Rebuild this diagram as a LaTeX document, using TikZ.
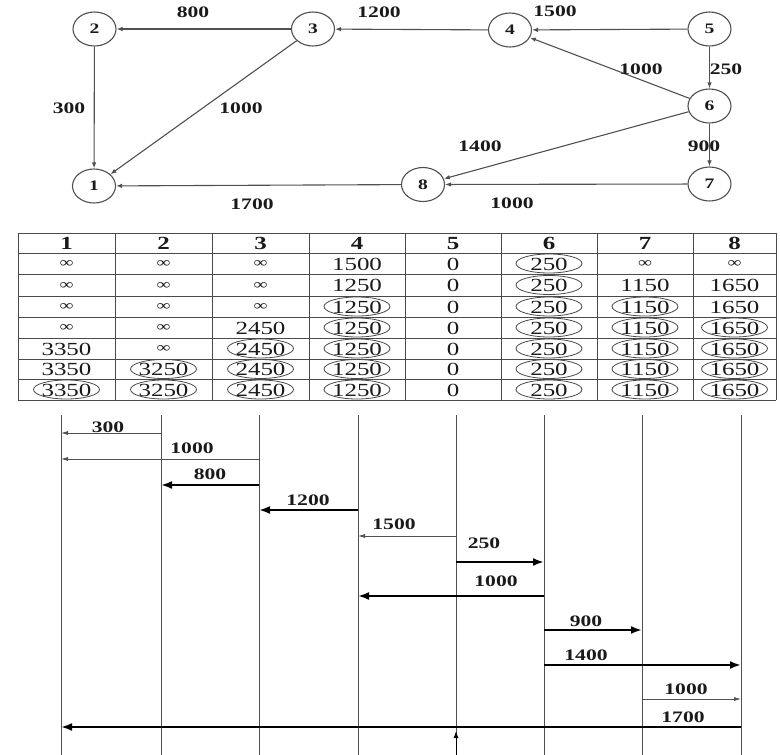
\documentclass[tikz,border=0pt]{standalone}
\usepackage{fontspec}
\usepackage{graphicx}
\setmainfont{Liberation Serif}[FakeStretch=1.35]
\usetikzlibrary{shapes.geometric,arrows.meta}
\definecolor{edgec}{HTML}{505050}
\definecolor{txt}{HTML}{1A1A1A}
\definecolor{gridc}{HTML}{4A4A4A}
\newcommand{\inft}{\raisebox{2.5pt}{\fontsize{14.5}{14.5}\selectfont ∞}}
\newcommand{\tcp}[3]{\node[val] (v#1-#2) at (X#2 |- R#1) {#3};}
\newcommand{\tco}[3]{\node[val] (v#1-#2) at (X#2 |- R#1) {#3};
  \draw[ovalc] (v#1-#2.center) ellipse [x radius=33, y radius=9.5];}
\begin{document}
\begin{tikzpicture}[x=1pt,y=-1pt,
  gnode/.style={ellipse,draw=edgec,line width=1.1pt,minimum width=43pt,minimum height=34pt,inner sep=0pt,text=txt,font=\fontsize{14.5}{14.5}\selectfont\bfseries},
  gedge/.style={draw=edgec,line width=1.1pt,-{Latex[length=6pt,width=4.5pt]}},
  glab/.style={font=\fontsize{16}{16}\selectfont\bfseries,text=txt,inner sep=0pt},
  head/.style={font=\fontsize{18.5}{18.5}\selectfont\bfseries,text=txt,inner sep=0pt,text height=13pt,text depth=0pt},
  val/.style={font=\fontsize{18.5}{18.5}\selectfont,text=txt,inner sep=0pt,text height=13pt,text depth=0pt},
  ovalc/.style={draw=gridc,line width=0.8pt},
  gridline/.style={draw=gridc,line width=0.9pt},
  vline/.style={draw=edgec,line width=1pt},
  thinarr/.style={draw=edgec,line width=0.8pt,-{Latex[length=7pt,width=4pt]}},
  thickarr/.style={draw=black,line width=2.6pt,-{Latex[length=11pt,width=8pt]}}]
\useasboundingbox (0,0) rectangle (780,755);

% ---------- graph ----------
\node[gnode] (n2) at (94.5,29) {2};
\node[gnode] (n3) at (313,29) {3};
\node[gnode] (n1) at (94,186) {1};
\node[gnode] (n4) at (510,30) {4};
\node[gnode] (n5) at (709.5,29) {5};
\node[gnode] (n6) at (709.5,106) {6};
\node[gnode] (n7) at (709.5,184) {7};
\node[gnode] (n8) at (423,184.5) {8};

\draw[gedge] (n3) -- (n2);
\draw[gedge] (n4) -- (n3);
\draw[gedge] (n5) -- (n4);
\draw[gedge] (n5) -- (n6);
\draw[gedge] (n6) -- (n4);
\draw[gedge] (n2) -- (n1);
\draw[gedge] (n3) -- (n1);
\draw[gedge] (n6) -- (n8);
\draw[gedge] (n6) -- (n7);
\draw[gedge] (n7) -- (n8);
\draw[gedge] (n8) -- (n1);

\node[glab] (l800) at (193,12) {800};
\node[glab] (l1200) at (379,12) {1200};
\node[glab] (l1500) at (555,11) {1500};
\node[glab] (l300) at (69,108) {300};
\node[glab] (l1000a) at (241,108) {1000};
\node[glab] (l1000b) at (641,69) {1000};
\node[glab] (l250) at (726,69) {250};
\node[glab] (l1400) at (480,146) {1400};
\node[glab] (l900) at (704,146) {900};
\node[glab] (l1700) at (252,204) {1700};
\node[glab] (l1000c) at (512,203) {1000};

% ---------- table ----------
\foreach \y in {233,253,274,296,317,338,359,379,400}
  \draw[gridline] (18,\y) -- (776,\y);
\foreach \x in {18,115,212,309,405,501,597,693,776}
  \draw[gridline] (\x,233) -- (\x,400);
\foreach \i/\x in {1/66.5,2/163.5,3/260.5,4/357,5/453,6/549,7/645,8/734.5}
  \coordinate (X\i) at (\x,0);
\foreach \j/\y in {0/243,1/263.5,2/285,3/306.5,4/327.5,5/348.5,6/369,7/389.5}
  \coordinate (R\j) at (0,\y);
\foreach \i in {1,...,8}
  \node[head] (h\i) at (X\i |- R0) {\i};

\tcp{1}{1}{\inft}\tcp{1}{2}{\inft}\tcp{1}{3}{\inft}\tcp{1}{4}{1500}\tcp{1}{5}{0}\tco{1}{6}{250}\tcp{1}{7}{\inft}\tcp{1}{8}{\inft}
\tcp{2}{1}{\inft}\tcp{2}{2}{\inft}\tcp{2}{3}{\inft}\tcp{2}{4}{1250}\tcp{2}{5}{0}\tco{2}{6}{250}\tcp{2}{7}{1150}\tcp{2}{8}{1650}
\tcp{3}{1}{\inft}\tcp{3}{2}{\inft}\tcp{3}{3}{\inft}\tco{3}{4}{1250}\tcp{3}{5}{0}\tco{3}{6}{250}\tco{3}{7}{1150}\tcp{3}{8}{1650}
\tcp{4}{1}{\inft}\tcp{4}{2}{\inft}\tcp{4}{3}{2450}\tco{4}{4}{1250}\tcp{4}{5}{0}\tco{4}{6}{250}\tco{4}{7}{1150}\tco{4}{8}{1650}
\tcp{5}{1}{3350}\tcp{5}{2}{\inft}\tco{5}{3}{2450}\tco{5}{4}{1250}\tcp{5}{5}{0}\tco{5}{6}{250}\tco{5}{7}{1150}\tco{5}{8}{1650}
\tcp{6}{1}{3350}\tco{6}{2}{3250}\tco{6}{3}{2450}\tco{6}{4}{1250}\tcp{6}{5}{0}\tco{6}{6}{250}\tco{6}{7}{1150}\tco{6}{8}{1650}
\tco{7}{1}{3350}\tco{7}{2}{3250}\tco{7}{3}{2450}\tco{7}{4}{1250}\tcp{7}{5}{0}\tco{7}{6}{250}\tco{7}{7}{1150}\tco{7}{8}{1650}

% ---------- bottom diagram ----------
\foreach \i/\x in {1/61,2/161,3/259,4/358,5/456,6/544,7/642,8/741} {
  \coordinate (T\i) at (\x,415);
  \coordinate (B\i) at (\x,755);
  \draw[vline] (T\i) -- (B\i);
}
\foreach \k/\y in {1/433,2/459,3/485,4/510,5/536,6/562,7/596,8/630,9/665,10/699,11/727}
  \coordinate (Y\k) at (0,\y);

\draw[thinarr] (T2 |- Y1) -- (T1 |- Y1);
\draw[thinarr] (T3 |- Y2) -- (T1 |- Y2);
\draw[thickarr] (T3 |- Y3) -- (T2 |- Y3);
\draw[thickarr] (T4 |- Y4) -- (T3 |- Y4);
\draw[thinarr] (T5 |- Y5) -- (T4 |- Y5);
\draw[thickarr] (T5 |- Y6) -- (T6 |- Y6);
\draw[thickarr] (T6 |- Y7) -- (T4 |- Y7);
\draw[thickarr] (T6 |- Y8) -- (T7 |- Y8);
\draw[thickarr] (T6 |- Y9) -- (T8 |- Y9);
\draw[thinarr] (T7 |- Y10) -- (T8 |- Y10);
\draw[thickarr] (T8 |- Y11) -- (T1 |- Y11);
\coordinate (up5) at (456,731);
\draw[draw=black,line width=1pt,-{Latex[length=7pt,width=5pt]}] (B5) -- (up5);

\node[glab] (b300) at (108,427) {300};
\node[glab] (b1000a) at (192,448) {1000};
\node[glab] (b800) at (210,474) {800};
\node[glab] (b1200) at (308,500) {1200};
\node[glab] (b1500) at (394,524) {1500};
\node[glab] (b250) at (484,543) {250};
\node[glab] (b1000b) at (496,581) {1000};
\node[glab] (b900) at (586,621) {900};
\node[glab] (b1400) at (586,655) {1400};
\node[glab] (b1000c) at (686,689) {1000};
\node[glab] (b1700) at (683,717) {1700};
\end{tikzpicture}
\end{document}
